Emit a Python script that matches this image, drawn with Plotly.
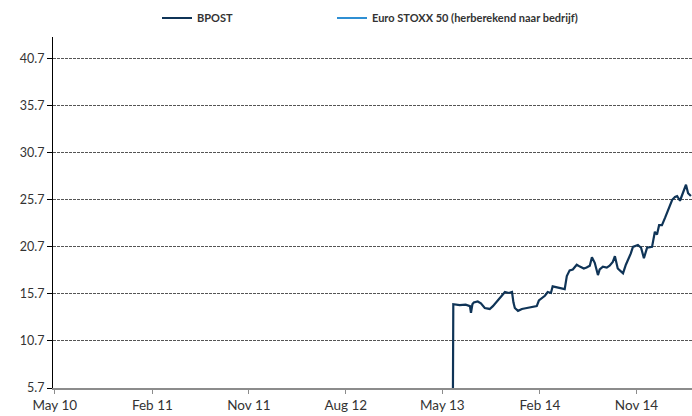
import plotly.graph_objects as go

# BPOST share price (EUR)
bpost_dates = [
    "2013-06-24", "2013-06-25", "2013-07-13", "2013-07-30", "2013-08-11", "2013-08-14",
    "2013-08-18", "2013-08-22", "2013-09-02", "2013-09-11", "2013-09-22", "2013-10-06",
    "2013-10-15", "2013-10-26", "2013-11-09", "2013-11-18", "2013-11-29", "2013-12-08",
    "2013-12-12", "2013-12-16", "2013-12-25", "2014-01-05", "2014-01-19", "2014-02-02",
    "2014-02-16", "2014-02-22", "2014-03-02", "2014-03-11", "2014-03-19", "2014-03-28",
    "2014-04-02", "2014-04-14", "2014-04-22", "2014-05-06", "2014-05-12", "2014-05-20",
    "2014-05-29", "2014-06-09", "2014-06-18", "2014-06-29", "2014-07-07", "2014-07-16",
    "2014-07-22", "2014-07-30", "2014-08-08", "2014-08-13", "2014-08-22", "2014-09-02",
    "2014-09-10", "2014-09-19", "2014-09-25", "2014-10-03", "2014-10-12", "2014-10-18",
    "2014-10-26", "2014-11-01", "2014-11-09", "2014-11-15", "2014-11-23", "2014-11-29",
    "2014-12-08", "2014-12-10", "2014-12-16", "2014-12-25", "2015-01-02", "2015-01-08",
    "2015-01-16", "2015-01-22", "2015-01-28", "2015-02-05", "2015-02-14", "2015-02-22",
    "2015-02-28", "2015-03-06", "2015-03-14", "2015-03-20", "2015-03-28", "2015-04-06",
    "2015-04-14", "2015-04-20", "2015-04-28",
]
bpost_values = [
    5.7, 14.6, 14.5, 14.55, 14.4, 13.7,
    14.6, 14.8, 14.9, 14.7, 14.2, 14.1,
    14.4, 14.9, 15.5, 15.9, 15.8, 15.9,
    14.8, 14.2, 13.9, 14.1, 14.2, 14.3,
    14.4, 15.0, 15.2, 15.5, 15.9, 15.8,
    16.5, 16.4, 16.3, 16.2, 17.6, 18.2,
    18.3, 18.8, 18.6, 18.4, 18.5, 18.7,
    19.6, 19.0, 17.7, 18.3, 18.6, 18.5,
    18.7, 19.1, 19.7, 18.4, 18.1, 17.9,
    18.8, 19.3, 20.0, 20.7, 20.8, 20.9,
    20.6, 20.3, 19.5, 20.6, 20.7, 20.7,
    22.3, 22.0, 23.0, 23.0, 23.8, 24.5,
    25.0, 25.7, 26.0, 26.1, 25.6, 26.6,
    27.3, 26.4, 26.1,
]

# Euro STOXX 50 (rebased) - listed in legend, no visible data
stoxx_dates = ["2013-06-25"]
stoxx_values = [None]

tick_dates = ["2010-05-25", "2011-02-25", "2011-11-25", "2012-08-25",
              "2013-05-25", "2014-02-25", "2014-11-25"]
tick_labels = ["May 10", "Feb 11", "Nov 11", "Aug 12", "May 13", "Feb 14", "Nov 14"]
y_ticks = [5.7, 10.7, 15.7, 20.7, 25.7, 30.7, 35.7, 40.7]

FONT = "Lato, Carlito, 'Open Sans', sans-serif"
PLOT_L, PLOT_W, PLOT_T, PLOT_H = 53, 639, 37, 351
LEG_Y = 1 + (PLOT_T - 18) / PLOT_H
leg_font = dict(family=FONT, size=11, color="#333333", weight="bold")

fig = go.Figure()
fig.add_trace(go.Scatter(
    x=bpost_dates, y=bpost_values, mode="lines", name="BPOST",
    line=dict(color="#0f3457", width=2.2), legend="legend",
))
fig.add_trace(go.Scatter(
    x=stoxx_dates, y=stoxx_values, mode="lines",
    name="Euro STOXX 50 (herberekend naar bedrijf)",
    line=dict(color="#2f8fd3", width=2), legend="legend2",
))

fig.update_layout(
    width=692, height=416,
    margin=dict(l=PLOT_L, r=0, t=PLOT_T, b=28, autoexpand=False),
    paper_bgcolor="white", plot_bgcolor="white",
    font=dict(family=FONT, size=13, color="#333333"),
    showlegend=True,
    legend=dict(
        orientation="h", x=(157 - PLOT_L) / PLOT_W, xanchor="left",
        y=LEG_Y, yanchor="middle", font=leg_font,
        itemwidth=30, bgcolor="rgba(0,0,0,0)",
    ),
    legend2=dict(
        orientation="h", x=(332 - PLOT_L) / PLOT_W, xanchor="left",
        y=LEG_Y, yanchor="middle", font=leg_font,
        itemwidth=30, bgcolor="rgba(0,0,0,0)",
    ),
    xaxis=dict(
        type="date", automargin=False,
        range=["2010-05-20", "2015-05-01"],
        tickvals=tick_dates, ticktext=tick_labels,
        showgrid=False, zeroline=False,
        showline=True, linecolor="#8c8c8c", linewidth=2,
        ticks="outside", ticklen=4, tickcolor="#8c8c8c", tickwidth=1,
        tickfont=dict(family=FONT, size=13.5, color="#333333"),
    ),
    yaxis=dict(
        range=[5.7, 43.0], automargin=False,
        tickvals=y_ticks, ticktext=[f"{v:.1f}" for v in y_ticks],
        showgrid=True, gridcolor="#555555", gridwidth=1, griddash="3px,1px",
        zeroline=False,
        showline=True, linecolor="#000000", linewidth=1,
        ticks="outside", ticklen=5, tickcolor="#000000", tickwidth=1,
        tickfont=dict(family=FONT, size=12.5, color="#333333"),
    ),
)

fig.write_html(
    "out.html",
    config={"displayModeBar": False},
    post_script="document.body.style.margin='0';document.body.style.overflow='hidden';",
)
